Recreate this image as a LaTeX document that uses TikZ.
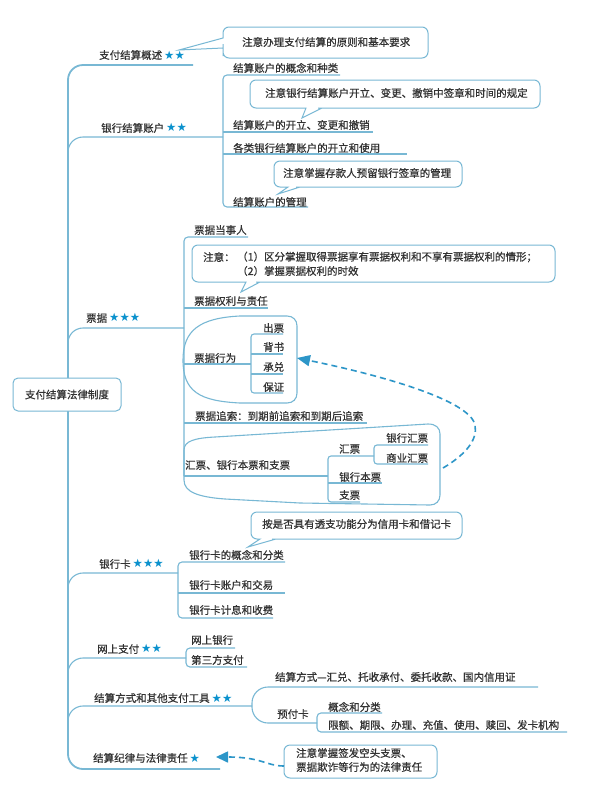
\documentclass[tikz,border=0pt]{standalone}
\usepackage{fontspec}
\usetikzlibrary{arrows.meta}
\newfontfamily\cjk[FakeBold=0.6]{Noto Sans CJK SC}
\newfontfamily\symf{DejaVu Sans}
\definecolor{lineblue}{RGB}{120,184,212}
\definecolor{starblue}{RGB}{10,145,205}
\definecolor{arrowblue}{RGB}{45,150,200}
\definecolor{txtgray}{RGB}{50,50,50}
\newcommand\mystars[1]{\hspace{2pt}{\symf\color{starblue}\fontsize{11.5}{11.5}\selectfont #1}}
\begin{document}
\begin{tikzpicture}[x=1pt,y=-1pt,
  txt/.style={anchor=west,inner sep=0pt,text=txtgray,font={\cjk\fontsize{10.5}{12}\selectfont}},
  ln/.style={draw=lineblue,line width=1.1pt},
  spine/.style={draw=lineblue,line width=1.8pt},
  callout/.style={draw=lineblue,line width=1pt,fill=white},
  dasharrow/.style={draw=arrowblue,line width=1.6pt,dash pattern=on 6pt off 4pt},
  rootbox/.style={draw=lineblue,line width=1pt,rounded corners=5pt,fill=white,
    minimum width=108pt,minimum height=33pt,inner sep=0pt,text=txtgray,
    font={\cjk\fontsize{10.5}{12}\selectfont}}]
\useasboundingbox (0,0) rectangle (607,796);
\fill[white] (0,0) rectangle (607,796);

% ---------- spine and main branches ----------
\draw[spine,rounded corners=15pt] (193,65) -- (68,65) -- (68,769) -- (220,769);
\draw[ln,rounded corners=15pt] (68,180) -- (68,137) -- (223,137);
\draw[ln,rounded corners=15pt] (68,370) -- (68,328) -- (184,328);
\draw[ln,rounded corners=15pt] (68,610) -- (68,573) -- (178,573);
\draw[ln,rounded corners=15pt] (68,690) -- (68,658) -- (186,658);
\draw[ln,rounded corners=15pt] (68,740) -- (68,706) -- (252,706);

\node[rootbox] (root) at (67,394.5) {支付结算法律制度};

% ---------- 支付结算概述 ----------
\node[txt] (n1) at (99,55) {支付结算概述\mystars{★★}};
\draw[callout,rounded corners=6pt] (300,27) -- (428,27) -- (428,58) -- (223,58) -- (223,50)
  [sharp corners] -- (223,48) -- (179,50) -- (223,38) -- (223,36)
  [rounded corners=6pt] -- (223,27) -- cycle;
\node[txt] (c1) at (242,42) {注意办理支付结算的原则和基本要求};

% ---------- 银行结算账户 ----------
\node[txt] (n2) at (101,128) {银行结算账户\mystars{★★}};
\draw[ln,rounded corners=4pt] (340,75) -- (223,75) -- (223,207) -- (308,207);
\draw[ln] (223,132) -- (373,132);
\draw[ln] (223,154) -- (407,154);
\node[txt] (n21) at (233,68) {结算账户的概念和种类};
\draw[callout,rounded corners=6pt] (400,80) -- (540,80) -- (540,108) -- (324,108)
  [sharp corners] -- (322,108) -- (302,118) -- (306,108) -- (304,108)
  [rounded corners=6pt] -- (250,108) -- (250,80) -- cycle;
\node[txt] (c2) at (265,93) {注意银行结算账户开立、变更、撤销中签章和时间的规定};
\node[txt] (n22) at (233,125) {结算账户的开立、变更和撤销};
\node[txt] (n23) at (233,148) {各类银行结算账户的开立和使用};
\draw[callout,rounded corners=6pt] (370,161) -- (462,161) -- (462,187) -- (302,187)
  [sharp corners] -- (300,187) -- (278,194) -- (288,187) -- (286,187)
  [rounded corners=6pt] -- (274,187) -- (274,161) -- cycle;
\node[txt] (c3) at (283,173) {注意掌握存款人预留银行签章的管理};
\node[txt] (n24) at (233,202) {结算账户的管理};

% ---------- 票据 ----------
\node[txt] (n3) at (86,318) {票据\mystars{★★★}};
\draw[ln,rounded corners=4pt] (248,237) -- (184,237) -- (184,476);
\node[txt] (n31) at (194,230) {票据当事人};
\draw[callout,rounded corners=6pt] (400,245) -- (555,245) -- (555,282) -- (262,282)
  [sharp corners] -- (260,282) -- (241,292) -- (246,282) -- (244,282)
  [rounded corners=6pt] -- (192,282) -- (192,245) -- cycle;
\node[txt] (c4a) at (203,257) {注意：};
\node[txt] (c4b) at (237,257) {（1）区分掌握取得票据享有票据权利和不享有票据权利的情形；};
\node[txt] (c4c) at (237,271) {（2）掌握票据权利的时效};
\node[txt] (n32) at (194,301) {票据权利与责任};
\draw[ln] (184,308) -- (268,308);
% group of 票据行为
\draw[ln] (183,360) .. controls (183,330) and (200,318) .. (240,316) -- (287,316)
  .. controls (293,316) and (297,320) .. (297,326) -- (297,393)
  .. controls (297,399) and (293,403) .. (287,403) -- (240,403)
  .. controls (200,401) and (183,392) .. (183,360);
\node[txt] (n33) at (194,358) {票据行为};
\draw[ln] (184,364) -- (251,364);
\draw[ln,rounded corners=3pt] (283,334) -- (251,334) -- (251,393) -- (283,393);
\draw[ln] (251,354) -- (283,354);
\draw[ln] (251,374) -- (283,374);
\node[txt] (b1) at (263,328) {出票};
\node[txt] (b2) at (263,347) {背书};
\node[txt] (b3) at (263,367) {承兑};
\node[txt] (b4) at (263,387) {保证};
\node[txt] (n34) at (195,416) {票据追索：到期前追索和到期后追索};
\draw[ln] (184,423) -- (367,423);
% group of 汇票
\draw[ln] (184,460) -- (184,450) .. controls (184,441) and (195,438) .. (215,437)
  -- (428,424) .. controls (436,424) and (440,428) .. (440,434) -- (440,495)
  .. controls (440,501) and (436,505) .. (430,505) -- (300,503) -- (225,499)
  .. controls (198,497) and (184,492) .. (184,480) -- cycle;
\node[txt] (n35) at (185,465) {汇票、银行本票和支票};
\draw[ln] (184,476) -- (328,476);
\draw[ln,rounded corners=3pt] (374,456) -- (328,456) -- (328,502) -- (360,502);
\draw[ln] (328,483) -- (382,483);
\draw[ln,rounded corners=3pt] (428,445) -- (374,445) -- (374,464) -- (428,464);
\node[txt] (h1) at (339,449) {汇票};
\node[txt] (h11) at (386,438) {银行汇票};
\node[txt] (h12) at (386,458) {商业汇票};
\node[txt] (h2) at (339,477) {银行本票};
\node[txt] (h3) at (339,495) {支票};
\coordinate (a1s) at (443,468);
\coordinate (a1m) at (475,425);
\coordinate (a1e) at (297,358);
\draw[dasharrow,-{Triangle[length=13pt,width=11pt]}] (a1s) .. controls (465,455) and (478,440) .. (a1m)
  .. controls (470,400) and (380,375) .. (a1e);

% ---------- 银行卡 ----------
\draw[callout,rounded corners=6pt] (350,512) -- (462,512) -- (462,539) -- (278,539)
  [sharp corners] -- (276,539) -- (248,547) -- (260,539) -- (258,539)
  [rounded corners=6pt] -- (251,539) -- (251,512) -- cycle;
\node[txt] (c5) at (262,524) {按是否具有透支功能分为信用卡和借记卡};
\node[txt] (n4) at (99,564) {银行卡\mystars{★★★}};
\draw[ln,rounded corners=4pt] (285,562) -- (178,562) -- (178,618) -- (273,618);
\draw[ln] (178,593) -- (285,593);
\node[txt] (n41) at (189,555) {银行卡的概念和分类};
\node[txt] (n42) at (189,585) {银行卡账户和交易};
\node[txt] (n43) at (189,610) {银行卡计息和收费};

% ---------- 网上支付 ----------
\node[txt] (n5) at (97,649) {网上支付\mystars{★★}};
\draw[ln,rounded corners=4pt] (235,648) -- (186,648) -- (186,667) -- (247,667);
\node[txt] (n51) at (191,640) {网上银行};
\node[txt] (n52) at (191,660) {第三方支付};

% ---------- 结算方式和其他支付工具 ----------
\node[txt] (n6) at (94,698) {结算方式和其他支付工具\mystars{★★}};
\draw[ln,rounded corners=16pt] (538,687) -- (252,687) -- (252,723) -- (317,723);
\node[txt] (n61) at (275,677) {结算方式—汇兑、托收承付、委托收款、国内信用证};
\node[txt] (n62) at (277,714) {预付卡};
\draw[ln,rounded corners=4pt] (382,713) -- (317,713) -- (317,732) -- (567,732);
\node[txt] (n621) at (328,707) {概念和分类};
\node[txt] (n622) at (328,725) {限额、期限、办理、充值、使用、赎回、发卡机构};

% ---------- 结算纪律与法律责任 ----------
\node[txt] (n7) at (93,758) {结算纪律与法律责任\mystars{★}};
\draw[callout,rounded corners=6pt] (284,745) rectangle (437,778);
\node[txt] (c6a) at (296,753) {注意掌握签发空头支票、};
\node[txt] (c6b) at (296,767) {票据欺诈等行为的法律责任};
\coordinate (a2s) at (284,766);
\coordinate (a2e) at (216,757);
\draw[dasharrow,-{Triangle[length=12pt,width=11pt]}] (a2s) .. controls (266,766) and (262,757) .. (a2e);
\end{tikzpicture}
\end{document}
